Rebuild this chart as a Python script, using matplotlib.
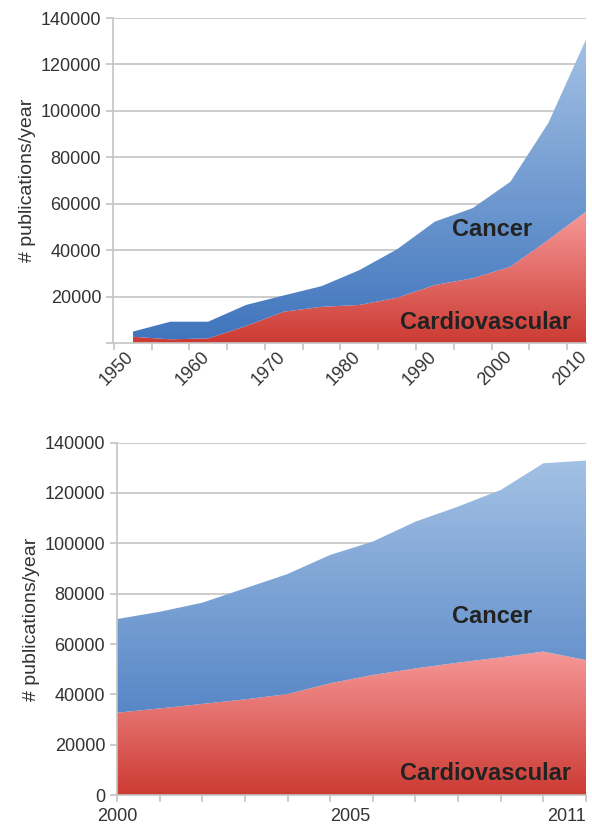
import numpy as np
import matplotlib
matplotlib.use("Agg")
import matplotlib.pyplot as plt
from matplotlib.colors import LinearSegmentedColormap

plt.rcParams['font.family'] = ['Liberation Sans', 'DejaVu Sans']

# top panel: 1950-2010, every 5 years
years_long = [1950, 1955, 1960, 1965, 1970, 1975, 1980, 1985, 1990, 1995, 2000, 2005, 2010]
cardio_long = [2700, 1600, 2000, 7300, 13500, 15600, 16400, 19500, 25000, 27900, 32900, 44400, 56600]
total_long = [4900, 9200, 9200, 16400, 20500, 24500, 31400, 40400, 52300, 58100, 69500, 94700, 130800]

# bottom panel: 2000-2011, yearly
years_short = [2000, 2001, 2002, 2003, 2004, 2005, 2006, 2007, 2008, 2009, 2010, 2011]
cardio_short = [32700, 34400, 36200, 38000, 40100, 44400, 47700, 50300, 52600, 54700, 57000, 53600]
total_short = [69900, 72800, 76400, 82100, 87800, 95400, 100700, 108600, 114600, 121200, 131800, 132900]

red_cmap = LinearSegmentedColormap.from_list("red", ["#cc3b33", "#f69898"])
blue_cmap = LinearSegmentedColormap.from_list("blue", ["#3f74bd", "#a3c1e4"])
grid_col = "#c4c4c4"
text_col = "#333333"


def gradient_area(ax, x, lower, upper, cmap):
    poly = ax.fill_between(x, lower, upper, facecolor='none', edgecolor='none')
    grad = np.linspace(0, 1, 256).reshape(-1, 1)
    im = ax.imshow(grad, cmap=cmap, origin='lower', aspect='auto',
                   extent=[x[0], x[-1], 0, max(upper)], zorder=2)
    im.set_clip_path(poly.get_paths()[0], transform=ax.transData)


def style_axes(ax):
    ax.set_ylim(0, 140000)
    ax.set_yticks(np.arange(0, 140001, 20000))
    ax.yaxis.grid(True, color=grid_col, linewidth=1.2)
    ax.set_axisbelow(True)
    for s in ['top', 'right']:
        ax.spines[s].set_visible(False)
    for s in ['left', 'bottom']:
        ax.spines[s].set_color(grid_col)
        ax.spines[s].set_linewidth(1.2)
    ax.tick_params(axis='both', colors=grid_col, labelcolor=text_col,
                   labelsize=13, length=5, width=1.2)
    ax.set_ylabel("# publications/year", fontsize=14, color=text_col, labelpad=3)


fig = plt.figure(figsize=(5.92, 8.26), dpi=100)

# top panel
ax1 = fig.add_axes([0.1909, 0.5847, 0.799, 0.3935])
x = np.array(years_long, dtype=float)
gradient_area(ax1, x, np.zeros_like(x), cardio_long, red_cmap)
gradient_area(ax1, x, cardio_long, total_long, blue_cmap)
style_axes(ax1)
ax1.set_xlim(1947.4, 2010)
ax1.set_yticks(np.arange(20000, 140001, 20000))
ax1.set_yticks([0], minor=True)
ax1.tick_params(axis='y', which='minor', colors=grid_col, length=5, width=1.2)
ax1.set_xticks(np.arange(1947.5, 2010, 5), minor=True)
ax1.set_xticks([])
ax1.tick_params(axis='x', which='minor', length=5, width=1.2, colors=grid_col)
# rotated year labels, right end placed at the data point
for yr in years_long[::2]:
    ax1.annotate(str(yr), xy=(yr, 0), xycoords=('data', 'axes fraction'),
                 xytext=(-1, -8), textcoords='offset points',
                 rotation=45, ha='right', va='center', rotation_mode='anchor',
                 fontsize=13, color=text_col, annotation_clip=False)
ax1.text(1997.6, 48700, "Cancer", fontsize=17, fontweight='bold', color='#222222',
         ha='center', va='center', zorder=5)
ax1.text(1996.7, 9000, "Cardiovascular", fontsize=17, fontweight='bold', color='#222222',
         ha='center', va='center', zorder=5)

# bottom panel
ax2 = fig.add_axes([0.1976, 0.0375, 0.7923, 0.4266])
x = np.array(years_short, dtype=float)
gradient_area(ax2, x, np.zeros_like(x), cardio_short, red_cmap)
gradient_area(ax2, x, cardio_short, total_short, blue_cmap)
style_axes(ax2)
ax2.set_xlim(2000, 2011)
ax2.set_xticks(years_short, minor=True)
ax2.set_xticks([2000, 2005, 2011])
ax2.set_xticklabels(["2000", "2005", "2011"])
labs = ax2.get_xticklabels()
labs[1].set_ha('left')
labs[2].set_ha('right')
ax2.tick_params(axis='x', which='minor', length=5, width=1.2, colors=grid_col)
ax2.tick_params(axis='x', which='major', pad=4)
ax2.text(2008.8, 70800, "Cancer", fontsize=17, fontweight='bold', color='#222222',
         ha='center', va='center', zorder=5)
ax2.text(2008.65, 8700, "Cardiovascular", fontsize=17, fontweight='bold', color='#222222',
         ha='center', va='center', zorder=5)

fig.savefig("out.png", dpi=100)
